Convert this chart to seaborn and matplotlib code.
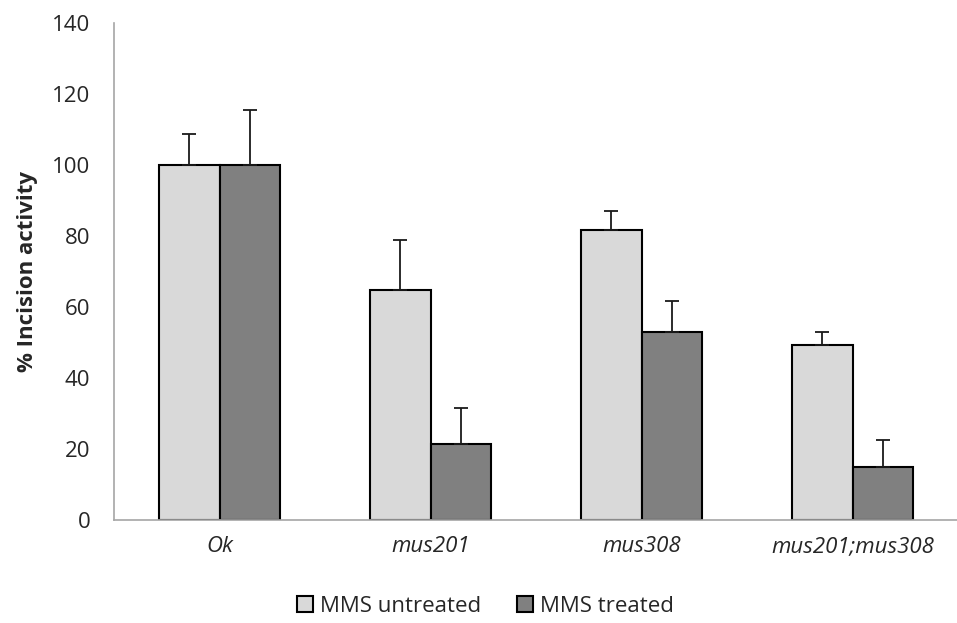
import matplotlib
matplotlib.use("Agg")
import matplotlib.pyplot as plt
import seaborn as sns
import pandas as pd
import numpy as np

categories = ["Ok", "mus201", "mus308", "mus201;mus308"]
series_names = ["MMS untreated", "MMS treated"]
untreated = [100, 64.8, 81.7, 49.3]
treated = [100, 21.2, 53.0, 14.8]
untreated_err = [8.9, 14.1, 5.4, 3.6]
treated_err = [15.5, 10.3, 8.6, 7.7]
y_ticks = [0, 20, 40, 60, 80, 100, 120, 140]

sns.set_theme(style="white")
plt.rcParams["font.family"] = ["Open Sans", "DejaVu Sans"]

FS = 16

df = pd.DataFrame({
    "cat": categories * 2,
    "series": [series_names[0]] * 4 + [series_names[1]] * 4,
    "val": untreated + treated,
})

fig = plt.figure(figsize=(9.57, 6.23), dpi=100)
ax = fig.add_axes([114 / 957, 103.5 / 623, 844 / 957, 496.2 / 623])

sns.barplot(data=df, x="cat", y="val", hue="series", order=categories,
            hue_order=series_names, palette=["#D9D9D9", "#808080"],
            width=0.57, gap=0, edgecolor="black", linewidth=1.5,
            saturation=1, errorbar=None, ax=ax, legend=True)

# error bars (positive only)
errs = untreated_err + treated_err
vals = untreated + treated
for patch, v, e in zip(ax.patches[:8], vals, errs):
    cx = patch.get_x() + patch.get_width() / 2
    ax.errorbar(cx, v, yerr=[[0], [e]], fmt="none", ecolor="#1a1a1a",
                elinewidth=1.3, capsize=5, capthick=1.3, zorder=1)

ax.set_ylim(0, 140)
ax.set_xlim(-0.5, 3.5)
ax.set_yticks(y_ticks)
ax.set_yticklabels([str(t) for t in y_ticks], fontsize=FS)
ax.set_xticks(range(len(categories)))
ax.set_xticklabels(categories, fontsize=FS, style="italic")
ax.tick_params(axis="x", length=0, pad=12)
# boundary ticks on x axis
ax.set_xticks([-0.5, 0.5, 1.5, 2.5, 3.5], minor=True)
ax.tick_params(axis="x", which="minor", length=8, width=1, color="#A6A6A6", direction="out")
ax.tick_params(axis="y", length=5, width=1, color="#A6A6A6", direction="out", pad=12)
ax.set_xlabel("")
ax.set_ylabel("% Incision activity", fontsize=FS, fontweight="bold", labelpad=10)

for side in ["top", "right"]:
    ax.spines[side].set_visible(False)
for side in ["left", "bottom"]:
    ax.spines[side].set_color("#A6A6A6")
    ax.spines[side].set_linewidth(1.2)

handles, labels = ax.get_legend_handles_labels()
if ax.legend_:
    ax.legend_.remove()
fig.legend(handles, labels, loc="center", bbox_to_anchor=(0.507, 1 - 606 / 623),
           ncol=2, frameon=False, fontsize=FS, handlelength=0.75,
           handleheight=0.75, handletextpad=0.3, columnspacing=1.6)

fig.savefig("out.png", dpi=100)
